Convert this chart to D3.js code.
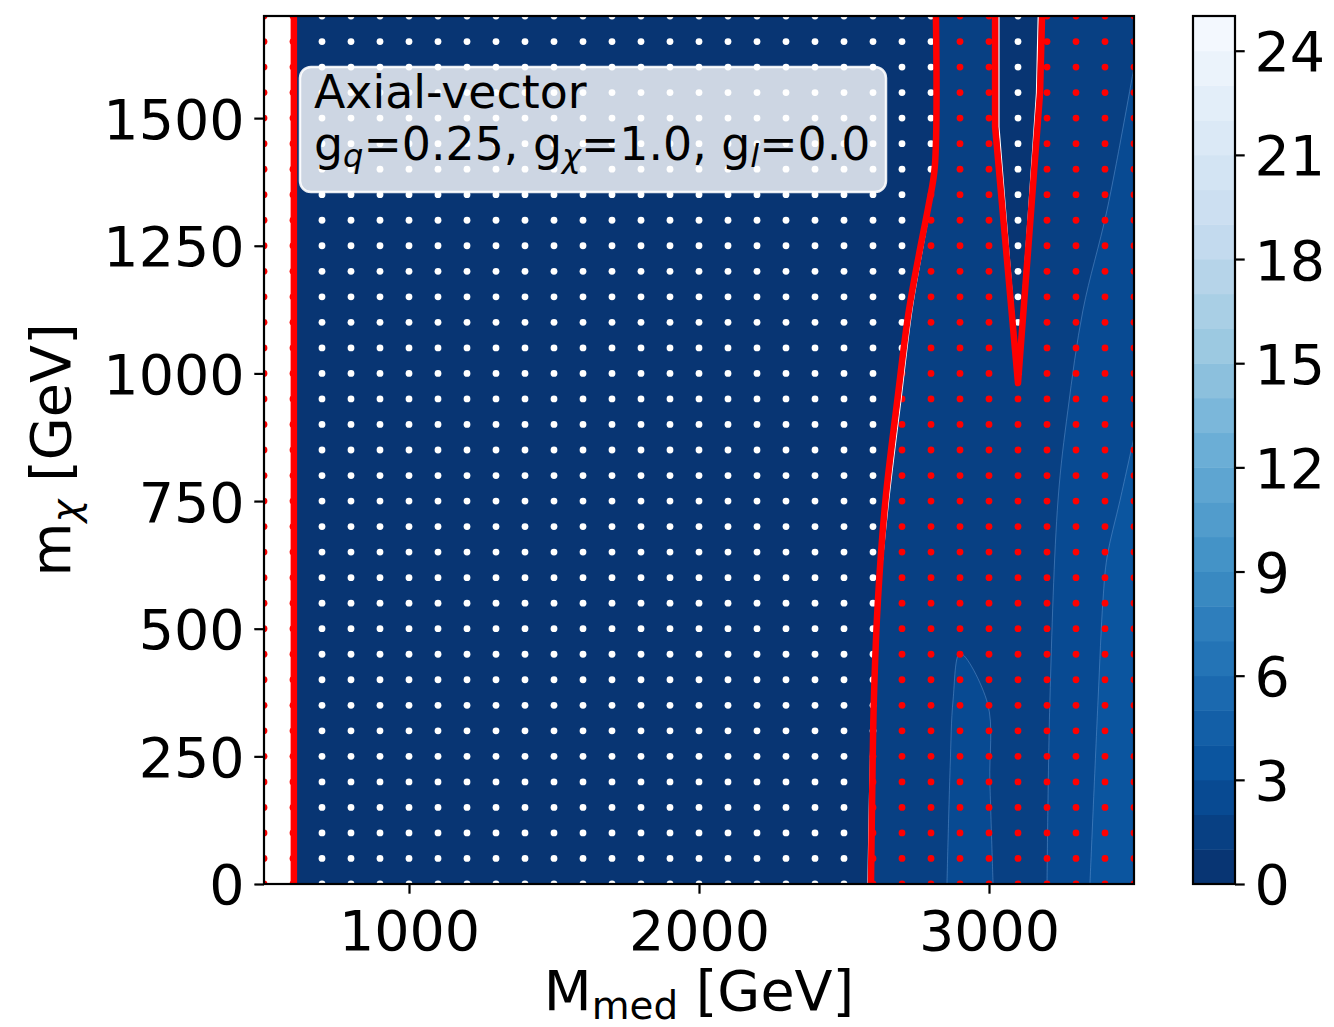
<!DOCTYPE html>
<html>
<head>
<meta charset="utf-8">
<script src="https://cdn.jsdelivr.net/npm/d3@7"></script>
<style>
body { margin: 0; background: #fff; }
text { font-family: "DejaVu Sans", sans-serif; fill: #000; }
</style>
</head>
<body>
<div class="chart"></div>
<script>
// scan grid (mediator mass, DM mass)
var medGrid = [500, 600, 700, 800, 900, 1000, 1100, 1200, 1300, 1400, 1500, 1600, 1700, 1800, 1900, 2000,
    2100, 2200, 2300, 2400, 2500, 2600, 2700, 2800, 2900, 3000, 3100, 3200, 3300, 3400, 3500];
var dmGrid = [0, 50, 100, 150, 200, 250, 300, 350, 400, 450, 500, 550, 600, 650, 700, 750, 800, 850,
    900, 950, 1000, 1050, 1100, 1150, 1200, 1250, 1300, 1350, 1400, 1450, 1500, 1550, 1600, 1650, 1700];

var xTicks = [1000, 2000, 3000];
var yTicks = [0, 250, 500, 750, 1000, 1250, 1500];
var cbTicks = [0, 3, 6, 9, 12, 15, 18, 21, 24];
var levels = [0, 1, 2, 3, 4, 5, 6, 7, 8, 9, 10, 11, 12, 13, 14, 15, 16, 17, 18, 19, 20, 21, 22, 23, 24, 25];

// observed limit contour (mu = 1)
var obsLeft = [[603, 0], [603, 1700]];
var obsRight = [[2593, 0], [2597, 165], [2603, 360], [2617, 556], [2643, 752], [2684, 948], [2724, 1124],
    [2766, 1255], [2792, 1330], [2813, 1404], [2817, 1700]];
var obsV = [[3021, 1700], [3021, 1483], [3100, 981], [3176, 1549], [3183, 1700]];

// thin white contour next to the red one
var expRight = [[2583, 0], [2588, 165], [2598, 360], [2620, 556], [2654, 752], [2696, 948], [2734, 1124],
    [2774, 1255], [2798, 1330], [2817, 1404]];
var expV = [[3034, 1700], [3034, 1483], [3100, 1010], [3164, 1549], [3170, 1700]];

// region left of the first level with no fill
var noFill = [[500, 0], [500, 1700], [598, 1700], [598, 0]];

// other band edges of the filled contours
var edge2 = [[3500, 1600], [3407, 1320], [3324, 1124], [3272, 928], [3238, 752], [3210, 360], [3200, 0]];
var island2 = [[2855, 0], [2866, 229], [2876, 360], [2900, 452], [2995, 354], [3003, 200], [3014, 0]];
var edge3 = [[3500, 875], [3452, 752], [3407, 640], [3393, 556], [3376, 360], [3348, 0]];

var svgWidth = 1334;
var svgHeight = 1027;
var plot = { left: 264, right: 1134, top: 16, bottom: 884 };
var cbar = { left: 1193, right: 1235 };
var fs = 55.5;
var lw = 2.2;

var svg = d3.select(".chart")
    .append("svg")
    .attr("width", svgWidth)
    .attr("height", svgHeight);

var x = d3.scaleLinear().domain([500, 3500]).range([plot.left, plot.right]);
var y = d3.scaleLinear().domain([0, 1700]).range([plot.bottom, plot.top]);

// matplotlib Blues_r
var bluesStops = ["#f7fbff", "#deebf7", "#c6dbef", "#9ecae1", "#6baed6", "#4292c6", "#2171b5", "#08519c", "#08306b"];
var blues = d3.scaleLinear()
    .domain([0, 0.125, 0.25, 0.375, 0.5, 0.625, 0.75, 0.875, 1])
    .range(bluesStops);
var lmin = levels[0], lmax = levels[levels.length - 1];
function bandColor(i) {
    var mid = (levels[i] + levels[i + 1]) / 2;
    return blues(1 - (mid - lmin) / (lmax - lmin));
}

svg.append("clipPath").attr("id", "clip")
    .append("rect")
    .attr("x", plot.left).attr("y", plot.top)
    .attr("width", plot.right - plot.left).attr("height", plot.bottom - plot.top);

var g = svg.append("g").attr("clip-path", "url(#clip)");

var line = d3.line().x(d => x(d[0])).y(d => y(d[1]));
var smooth = d3.line().x(d => x(d[0])).y(d => y(d[1])).curve(d3.curveCatmullRom);

// filled contour bands
g.append("rect")
    .attr("x", plot.left).attr("y", plot.top)
    .attr("width", plot.right - plot.left).attr("height", plot.bottom - plot.top)
    .attr("fill", bandColor(0));

g.append("path")
    .attr("d", line(noFill) + "Z")
    .attr("fill", "#fff");

var seam = "rgba(110,160,215,0.45)";

var regions = [
    { d: smooth(obsRight) + "L" + x(3500) + "," + y(1700) + "L" + x(3500) + "," + y(0) + "Z", band: 1 },
    { d: line(obsV) + "Z", band: 0 },
    { d: smooth(island2) + "Z", band: 2 },
    { d: smooth(edge2) + "L" + x(3500) + "," + y(0) + "Z", band: 2 },
    { d: smooth(edge3) + "L" + x(3500) + "," + y(0) + "Z", band: 3 }
];

g.selectAll(".band")
    .data(regions)
    .enter()
    .append("path")
    .attr("class", "band")
    .attr("d", d => d.d)
    .attr("fill", d => bandColor(d.band))
    .attr("stroke", seam)
    .attr("stroke-width", 1);

// scan points: white = excluded, red = not excluded
var excludedPoly = obsLeft.concat(obsRight.slice().reverse());
var points = [];
dmGrid.forEach(function(m) {
    medGrid.forEach(function(M) {
        var p = [M, Math.min(Math.max(m, 1), 1699)];
        var excl = d3.polygonContains(excludedPoly, p) || d3.polygonContains(obsV, p);
        points.push({ M: M, m: m, excl: excl });
    });
});

g.selectAll(".pt")
    .data(points)
    .enter()
    .append("circle")
    .attr("class", "pt")
    .attr("cx", d => x(d.M))
    .attr("cy", d => y(d.m))
    .attr("r", 3.4)
    .attr("fill", d => d.excl ? "#ffffff" : "#ff0000");

// contour lines
g.append("path").attr("d", smooth(expRight)).attr("fill", "none")
    .attr("stroke", "#fff").attr("stroke-width", 1.4);
g.append("path").attr("d", line(expV)).attr("fill", "none")
    .attr("stroke", "#fff").attr("stroke-width", 1.4).attr("stroke-linejoin", "round");

[obsLeft, obsRight].forEach(function(c) {
    g.append("path").attr("d", smooth(c)).attr("fill", "none")
        .attr("stroke", "#ff0000").attr("stroke-width", 6.5);
});
g.append("path").attr("d", line(obsV)).attr("fill", "none")
    .attr("stroke", "#ff0000").attr("stroke-width", 6.5).attr("stroke-linejoin", "round");

// legend box
svg.append("rect")
    .attr("x", 300).attr("y", 67)
    .attr("width", 586).attr("height", 125)
    .attr("rx", 11).attr("ry", 11)
    .attr("fill", "#fff").attr("fill-opacity", 0.8)
    .attr("stroke", "#fff").attr("stroke-opacity", 0.9).attr("stroke-width", 2.5);

function mathText(sel, parts, size) {
    var shift = size * 0.16;
    var inSub = false;
    parts.forEach(function(p) {
        var t = sel.append("tspan").text(p.t);
        if (p.sub) {
            t.attr("font-size", size * 0.7).attr("dy", inSub ? 0 : shift);
            if (p.it) t.attr("font-style", "italic");
            inSub = true;
        } else {
            if (inSub) t.attr("dy", -shift);
            inSub = false;
        }
    });
}

var lfs = 45.8;
svg.append("text")
    .attr("x", 314).attr("y", 108)
    .style("font-size", lfs + "px")
    .text("Axial-vector");

var l2 = svg.append("text")
    .attr("x", 314).attr("y", 160)
    .style("font-size", lfs + "px");
mathText(l2, [
    { t: "g" }, { t: "q", sub: true, it: true }, { t: "=0.25, g" },
    { t: "\u03c7", sub: true, it: true }, { t: "=1.0, g" },
    { t: "l", sub: true, it: true }, { t: "=0.0" }
], lfs);

// axes
var tickLen = 9.7, tickPad = 9.7;

var xAxis = svg.append("g")
    .attr("transform", `translate(0, ${plot.bottom})`)
    .call(d3.axisBottom(x).tickValues(xTicks).tickFormat(d3.format("d")).tickSize(tickLen).tickPadding(tickPad));
xAxis.selectAll("text").attr("dy", "0.84em");

var yAxis = svg.append("g")
    .attr("transform", `translate(${plot.left}, 0)`)
    .call(d3.axisLeft(y).tickValues(yTicks).tickFormat(d3.format("d")).tickSize(tickLen).tickPadding(tickPad));
yAxis.selectAll("text").attr("dy", "0.36em");

[xAxis, yAxis].forEach(function(a) {
    a.select(".domain").remove();
    a.attr("font-family", null).attr("font-size", null);
    a.selectAll("text").style("font-size", fs + "px");
    a.selectAll("line").attr("stroke", "#000").attr("stroke-width", lw);
});

svg.append("rect")
    .attr("x", plot.left).attr("y", plot.top)
    .attr("width", plot.right - plot.left).attr("height", plot.bottom - plot.top)
    .attr("fill", "none").attr("stroke", "#000").attr("stroke-width", lw);

// axis labels
var xl = svg.append("text")
    .attr("x", (plot.left + plot.right) / 2).attr("y", 1010)
    .style("text-anchor", "middle")
    .style("font-size", fs + "px");
mathText(xl, [{ t: "M" }, { t: "med", sub: true }, { t: " [GeV]" }], fs);

var yl = svg.append("text")
    .attr("transform", `translate(70, ${(plot.top + plot.bottom) / 2}) rotate(-90)`)
    .style("text-anchor", "middle")
    .style("font-size", fs + "px");
mathText(yl, [{ t: "m" }, { t: "\u03c7", sub: true, it: true }, { t: " [GeV]" }], fs);

// colorbar
var cb = d3.scaleLinear().domain([lmin, lmax]).range([plot.bottom, plot.top]);

svg.selectAll(".cbband")
    .data(levels.slice(0, -1))
    .enter()
    .append("rect")
    .attr("class", "cbband")
    .attr("x", cbar.left)
    .attr("width", cbar.right - cbar.left)
    .attr("y", (d, i) => cb(levels[i + 1]))
    .attr("height", (d, i) => cb(levels[i]) - cb(levels[i + 1]) + 0.5)
    .attr("fill", (d, i) => bandColor(i));

var cAxis = svg.append("g")
    .attr("transform", `translate(${cbar.right}, 0)`)
    .call(d3.axisRight(cb).tickValues(cbTicks).tickFormat(d3.format("d")).tickSize(tickLen).tickPadding(tickPad));
cAxis.select(".domain").remove();
cAxis.attr("font-family", null).attr("font-size", null);
cAxis.selectAll("text").style("font-size", fs + "px").attr("dy", "0.36em");
cAxis.selectAll("line").attr("stroke", "#000").attr("stroke-width", lw);

svg.append("rect")
    .attr("x", cbar.left).attr("y", plot.top)
    .attr("width", cbar.right - cbar.left).attr("height", plot.bottom - plot.top)
    .attr("fill", "none").attr("stroke", "#000").attr("stroke-width", lw);
</script>
</body>
</html>
